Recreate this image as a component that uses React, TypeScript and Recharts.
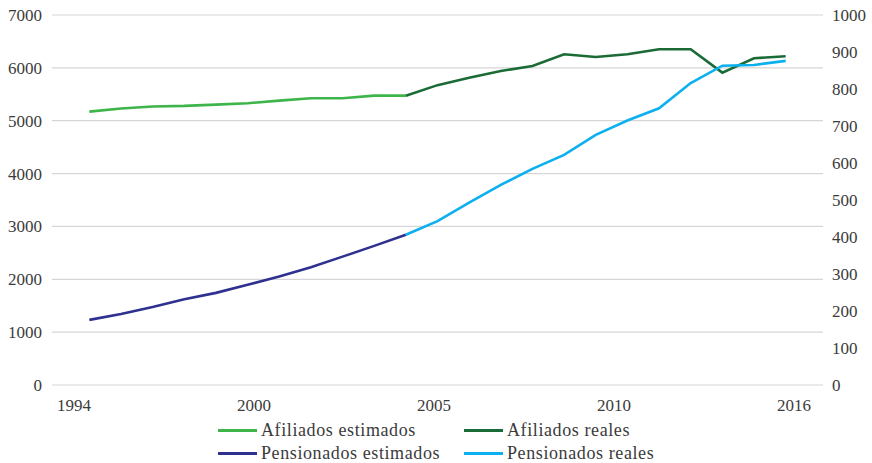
import { CartesianGrid, Line, LineChart, XAxis, YAxis } from "recharts";

// Afiliados (miles) on the left axis, pensionados (miles) on the right axis.
const years = [
  1994, 1995, 1996, 1997, 1998, 1999, 2000, 2001, 2002, 2003, 2004, 2005,
  2006, 2007, 2008, 2009, 2010, 2011, 2012, 2013, 2014, 2015, 2016,
];
const afiliadosEstimados = [
  5172, 5230, 5270, 5280, 5305, 5330, 5380, 5425, 5425, 5474, 5474,
];
const afiliadosReales = [
  5474, 5673, 5811, 5941, 6035, 6257, 6206, 6257, 6352, 6352, 5909, 6181, 6219,
];
const pensionadosEstimados = [
  176, 192, 211, 232, 249, 271, 293, 318, 347, 376, 406,
];
const pensionadosReales = [
  406, 443, 493, 541, 584, 622, 676, 715, 748, 816, 863, 865, 876,
];
// "reales" series pick up where the estimates stop
const realesStart = 2004;

// category labels sit in evenly spaced slots along the axis
const xLabels = ["1994", "2000", "2005", "2010", "2016"];
const xDomain = [1992.82, 2017.18];
const labelStart = 1993.515;
const labelStep = 5.687;
const xLabelTicks = xLabels.map((_, i) => labelStart + i * labelStep);

const leftTicks = [0, 1000, 2000, 3000, 4000, 5000, 6000, 7000];
const rightTicks = [0, 100, 200, 300, 400, 500, 600, 700, 800, 900, 1000];

const series = [
  { key: "afiliadosEstimados", name: "Afiliados estimados", color: "#3db54a", axis: "left" },
  { key: "afiliadosReales", name: "Afiliados reales", color: "#1b6b36", axis: "left" },
  { key: "pensionadosEstimados", name: "Pensionados estimados", color: "#2e3190", axis: "right" },
  { key: "pensionadosReales", name: "Pensionados reales", color: "#0cb0ef", axis: "right" },
];

const data = years.map((year, i) => {
  const r = year - realesStart;
  return {
    year,
    afiliadosEstimados: afiliadosEstimados[i] ?? null,
    afiliadosReales: r >= 0 ? afiliadosReales[r] : null,
    pensionadosEstimados: pensionadosEstimados[i] ?? null,
    pensionadosReales: r >= 0 ? pensionadosReales[r] : null,
  };
});

const FONT = '"Liberation Serif", "Times New Roman", serif';
const tickStyle = { fontSize: 17, fill: "#3b3b3b", fontFamily: FONT };

function LegendBox() {
  const cols = [218, 464];
  return (
    <div style={{ position: "absolute", left: 0, top: 420, fontFamily: FONT, fontSize: 18, color: "#3b3b3b" }}>
      {series.map((s, i) => (
        <div
          key={s.key}
          style={{
            position: "absolute",
            left: cols[i % 2],
            top: Math.floor(i / 2) * 23,
            display: "flex",
            alignItems: "center",
            whiteSpace: "nowrap",
            letterSpacing: 0.6,
          }}
        >
          <span style={{ display: "inline-block", width: 39, height: 3, background: s.color, marginRight: 4 }} />
          <span>{s.name}</span>
        </div>
      ))}
    </div>
  );
}

export default function App() {
  return (
    <div style={{ position: "absolute", left: 0, top: 0, width: 872, height: 463, background: "#fff" }}>
      <LineChart width={872} height={463} data={data} margin={{ top: 15, right: 0, bottom: 48, left: 0 }}>
        <CartesianGrid vertical={false} yAxisId="left" stroke="#d6d6d6" strokeWidth={1.2} />
        <XAxis
          dataKey="year"
          type="number"
          domain={xDomain}
          allowDataOverflow
          ticks={xLabelTicks}
          interval={0}
          tickFormatter={(_v: number, i: number) => xLabels[i]}
          tick={tickStyle}
          tickLine={false}
          tickSize={0}
          tickMargin={14}
          axisLine={false}
          height={30}
        />
        <YAxis
          yAxisId="left"
          domain={[0, 7000]}
          ticks={leftTicks}
          tick={tickStyle}
          tickLine={false}
          tickSize={0}
          tickMargin={10}
          axisLine={false}
          width={52}
        />
        <YAxis
          yAxisId="right"
          orientation="right"
          domain={[0, 1000]}
          ticks={rightTicks}
          tick={{ ...tickStyle, textAnchor: "start" }}
          tickLine={false}
          tickSize={0}
          tickMargin={9}
          axisLine={false}
          width={49}
        />
        {series.map((s) => (
          <Line
            key={s.key}
            yAxisId={s.axis}
            dataKey={s.key}
            name={s.name}
            type="linear"
            stroke={s.color}
            strokeWidth={2.6}
            dot={false}
            activeDot={false}
            connectNulls={false}
            isAnimationActive={false}
          />
        ))}
      </LineChart>
      <LegendBox />
    </div>
  );
}
